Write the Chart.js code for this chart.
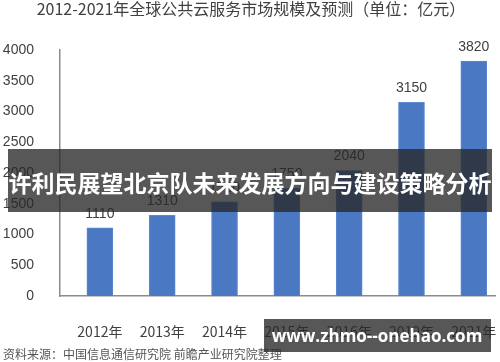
<!DOCTYPE html>
<html>
<head>
<meta charset="utf-8">
<script src="https://cdn.jsdelivr.net/npm/chart.js@4"></script>
<style>
  html, body { margin: 0; padding: 0; background: #fff; }
  #wrap { width: 500px; height: 362px; position: relative; }
</style>
</head>
<body>
<div id="wrap"><canvas id="myChart" width="500" height="362"></canvas></div>
<script>
const years = ["2012年", "2013年", "2014年", "2015年", "2016年", "2019年", "2021年"];
const sizes = [1110, 1310, 1530, 1750, 2040, 3150, 3820];
const yTicks = [0, 500, 1000, 1500, 2000, 2500, 3000, 3500, 4000];

const titleText = "2012-2021年全球公共云服务市场规模及预测（单位：亿元）";
const sourceText = "资料来源：中国信息通信研究院 前瞻产业研究院整理";
const bannerText = "许利民展望北京队未来发展方向与建设策略分析";
const markText = "www.zhmo--onehao.com";

const cjk = '"Noto Sans CJK SC", "Liberation Sans", sans-serif';

const extras = {
    id: 'extras',
    afterDatasetsDraw(chart) {
        const ctx = chart.ctx;
        const meta = chart.getDatasetMeta(0);
        ctx.save();
        ctx.font = '14px "Liberation Sans", Arial, sans-serif';
        ctx.fillStyle = '#404040';
        ctx.textAlign = 'center';
        ctx.textBaseline = 'middle';
        meta.data.forEach((bar, i) => {
            ctx.fillText(String(sizes[i]), bar.x, bar.y - 14);
        });
        ctx.restore();
    },
    afterDraw(chart) {
        const ctx = chart.ctx;
        ctx.save();
        // title, cut off at the top like the original screenshot
        ctx.font = '16px ' + cjk;
        ctx.fillStyle = '#404040';
        ctx.textAlign = 'center';
        ctx.textBaseline = 'alphabetic';
        ctx.fillText(titleText, 251, 15);
        // source line
        ctx.font = '12px ' + cjk;
        ctx.fillStyle = '#555';
        ctx.textAlign = 'left';
        ctx.textBaseline = 'middle';
        ctx.fillText(sourceText, 3, 354);
        // banner across the middle
        ctx.fillStyle = 'rgba(40,40,40,0.78)';
        ctx.fillRect(8, 149, 484, 63);
        ctx.font = 'bold 23px ' + cjk;
        ctx.fillStyle = '#fff';
        ctx.textAlign = 'center';
        ctx.fillText(bannerText, 250, 183);
        // watermark box
        ctx.fillStyle = 'rgba(40,40,40,0.78)';
        ctx.fillRect(264, 319, 227, 33);
        ctx.font = 'bold 17px "Open Sans", "DejaVu Sans", sans-serif';
        ctx.fillStyle = '#fff';
        ctx.fillText(markText, 377, 337);
        ctx.restore();
    }
};

new Chart(document.getElementById("myChart"), {
    type: 'bar',
    data: {
        datasets: [{
            data: sizes.map((v, i) => ({x: i, y: v})),
            backgroundColor: '#4a78c2',
            borderColor: '#5b88d0',
            borderWidth: 1,
            barThickness: 26
        }]
    },
    options: {
        responsive: false,
        animation: false,
        layout: { padding: { top: 50, right: 5, left: 0, bottom: 0 } },
        plugins: {
            legend: { display: false },
            tooltip: { enabled: false }
        },
        scales: {
            x: {
                type: 'linear',
                offset: false,
                min: -0.64,
                max: 6.34,
                afterFit(scale) {
                    scale.height = 66;
                    scale.paddingLeft = 0;
                    scale.paddingRight = 0;
                },
                grid: { display: false, offset: false },
                border: { display: true, color: '#8c8c8c', width: 1.5 },
                ticks: {
                    stepSize: 1,
                    includeBounds: false,
                    autoSkip: false,
                    maxRotation: 0,
                    padding: 19,
                    color: '#404040',
                    font: { size: 14, family: cjk },
                    callback: (v) => Number.isInteger(v) && years[v] ? years[v] : ''
                }
            },
            y: {
                min: 0,
                max: 4000,
                afterFit(scale) { scale.width = 60; },
                afterBuildTicks(scale) { scale.ticks = yTicks.map(v => ({value: v})); },
                grid: { display: false },
                border: { display: true, color: '#8c8c8c', width: 1.5 },
                ticks: {
                    padding: 18,
                    color: '#404040',
                    font: { size: 14, family: '"Liberation Sans", Arial, sans-serif' },
                    callback: (v) => String(v)
                }
            }
        }
    },
    plugins: [extras]
});
</script>
</body>
</html>
